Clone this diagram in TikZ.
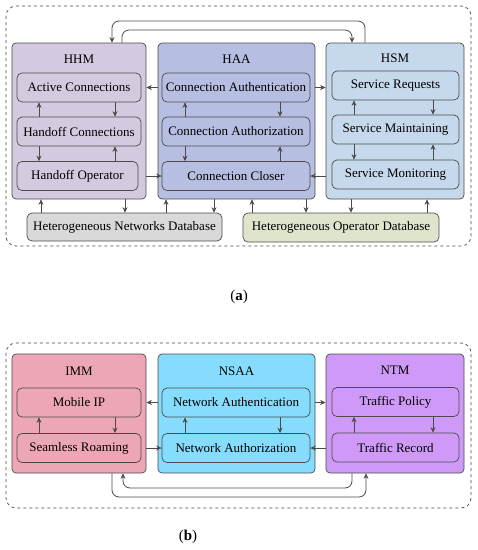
\documentclass[tikz,border=0pt]{standalone}
\usepackage{fontspec}
\setmainfont{Liberation Serif}
\usetikzlibrary{arrows.meta}
\definecolor{linegray}{RGB}{75,75,75}
\definecolor{hhmfill}{RGB}{212,202,224}
\definecolor{haafill}{RGB}{182,190,226}
\definecolor{hsmfill}{RGB}{198,216,235}
\definecolor{netfill}{RGB}{217,217,217}
\definecolor{opfill}{RGB}{223,229,205}
\definecolor{immfill}{RGB}{237,166,182}
\definecolor{nsaafill}{RGB}{133,220,252}
\definecolor{ntmfill}{RGB}{207,154,247}
\begin{document}
\begin{tikzpicture}[x=1pt,y=-1pt,every node/.style={font=\fontsize{13}{15}\selectfont,inner sep=0pt},
  module/.style={draw=linegray,line width=0.7pt,rounded corners=4pt},
  box/.style={draw=linegray,line width=0.7pt,rounded corners=5pt,minimum height=29pt},
  arr/.style={draw=linegray,line width=0.8pt,-{Stealth[length=5.5pt,width=5pt]}},
  frame/.style={draw=linegray,dashed,line width=0.7pt,rounded corners=10pt}]
\useasboundingbox (0,0) rectangle (478,550);
% panel (a)
\draw[frame] (6,6) rectangle (471,246);
\node[module,fill=hhmfill,minimum width=134pt,minimum height=156pt] (hhm) at (79,121){};
\node[module,fill=haafill,minimum width=157pt,minimum height=156pt] (haa) at (236.5,121){};
\node[module,fill=hsmfill,minimum width=138pt,minimum height=156pt] (hsm) at (395,121){};
\node (hhmt) at (79,59){HHM};\node (haat) at (236.5,59){HAA};\node (hsmt) at (395,58){HSM};
\node[box,fill=hhmfill,minimum width=124pt] (ac) at (79,87.5){Active Connections};
\node[box,fill=hhmfill,minimum width=124pt] (hc) at (79,131.5){Handoff Connections};
\node[box,fill=hhmfill,minimum width=121pt] (ho) at (77.5,176){Handoff Operator};
\node[box,fill=haafill,minimum width=148pt] (ca) at (236,87.5){Connection Authentication};
\node[box,fill=haafill,minimum width=148pt] (cz) at (236,131.5){Connection Authorization};
\node[box,fill=haafill,minimum width=148pt] (cc) at (236,176){Connection Closer};
\node[box,fill=hsmfill,minimum width=127pt] (sr) at (395.5,85.5){Service Requests};
\node[box,fill=hsmfill,minimum width=127pt] (sm) at (395.5,129.5){Service Maintaining};
\node[box,fill=hsmfill,minimum width=127pt] (so) at (395.5,174.5){Service Monitoring};
\node[module,rounded corners=5pt,fill=netfill,minimum width=195pt,minimum height=28pt] (hnd) at (124.5,227){Heterogeneous Networks Database};
\node[module,rounded corners=5pt,fill=opfill,minimum width=196pt,minimum height=29pt] (hod) at (341,227.5){Heterogeneous Operator Database};
% arrows inside modules
\draw[arr] (hc.north -| 39,0) -- (ac.south -| 39,0);
\draw[arr] (ac.south -| 115,0) -- (hc.north -| 115,0);
\draw[arr] (hc.south -| 39,0) -- (ho.north -| 39,0);
\draw[arr] (ho.north -| 115,0) -- (hc.south -| 115,0);
\draw[arr] (cz.north -| 185,0) -- (ca.south -| 185,0);
\draw[arr] (ca.south -| 280,0) -- (cz.north -| 280,0);
\draw[arr] (cz.south -| 185,0) -- (cc.north -| 185,0);
\draw[arr] (cc.north -| 280,0) -- (cz.south -| 280,0);
\draw[arr] (sm.north -| 354,0) -- (sr.south -| 354,0);
\draw[arr] (sr.south -| 433,0) -- (sm.north -| 433,0);
\draw[arr] (sm.south -| 354,0) -- (so.north -| 354,0);
\draw[arr] (so.north -| 433,0) -- (sm.south -| 433,0);
% arrows between modules
\draw[arr] (ca.west -| haa.west) -- (ca.west -| hhm.east);
\draw[arr] (ca.east -| haa.east) -- (ca.east -| hsm.west);
\draw[arr] (cc.west -| hhm.east) -- (cc.west);
\draw[arr] (cc.east -| hsm.west) -- (cc.east);
\draw[arr,rounded corners=7pt] (hsm.north -| 365,0) -- (365,21) -- (112,21) -- (hhm.north -| 112,0);
\draw[arr,rounded corners=7pt] (hhm.north -| 122,0) -- (122,30) -- (352,30) -- (hsm.north -| 352,0);
% database arrows
\draw[arr] (hnd.north -| 41,0) -- (hhm.south -| 41,0);
\draw[arr] (hhm.south -| 125,0) -- (hnd.north -| 125,0);
\draw[arr] (hnd.north -| 166,0) -- (haa.south -| 166,0);
\draw[arr] (haa.south -| 214,0) -- (hnd.north -| 214,0);
\draw[arr] (hod.north -| 252,0) -- (haa.south -| 252,0);
\draw[arr] (haa.south -| 306,0) -- (hod.north -| 306,0);
\draw[arr] (hsm.south -| 351,0) -- (hod.north -| 351,0);
\draw[arr] (hod.north -| 427,0) -- (hsm.south -| 427,0);
\node[font=\fontsize{15}{17}\selectfont] (capa) at (239,297){(\textbf{a})};
% panel (b)
\draw[frame] (6,343) rectangle (471,508);
\node[module,fill=immfill,minimum width=134pt,minimum height=119pt] (imm) at (79,413.5){};
\node[module,fill=nsaafill,minimum width=157pt,minimum height=119pt] (nsaa) at (236.5,413.5){};
\node[module,fill=ntmfill,minimum width=138pt,minimum height=119pt] (ntm) at (395,413.5){};
\node (immt) at (79,371){IMM};\node (nsaat) at (236.5,371){NSAA};\node (ntmt) at (395,370){NTM};
\node[box,fill=immfill,minimum width=124pt] (mip) at (79,402.5){Mobile IP};
\node[box,fill=immfill,minimum width=124pt] (sro) at (79,448){Seamless Roaming};
\node[box,fill=nsaafill,minimum width=148pt] (nau) at (236,402.5){Network Authentication};
\node[box,fill=nsaafill,minimum width=148pt] (naz) at (236,448){Network Authorization};
\node[box,fill=ntmfill,minimum width=127pt] (tp) at (395.5,402){Traffic Policy};
\node[box,fill=ntmfill,minimum width=127pt] (tr) at (395.5,447.5){Traffic Record};
\draw[arr] (sro.north -| 39,0) -- (mip.south -| 39,0);
\draw[arr] (mip.south -| 115,0) -- (sro.north -| 115,0);
\draw[arr] (naz.north -| 185,0) -- (nau.south -| 185,0);
\draw[arr] (nau.south -| 280,0) -- (naz.north -| 280,0);
\draw[arr] (tr.north -| 354,0) -- (tp.south -| 354,0);
\draw[arr] (tp.south -| 433,0) -- (tr.north -| 433,0);
\draw[arr] (nau.west -| nsaa.west) -- (nau.west -| imm.east);
\draw[arr] (nau.east -| nsaa.east) -- (nau.east -| ntm.west);
\draw[arr] (naz.west -| imm.east) -- (naz.west);
\draw[arr] (naz.east -| ntm.west) -- (naz.east);
\draw[arr,rounded corners=7pt] (ntm.south -| 352,0) -- (352,488) -- (123,488) -- (imm.south -| 123,0);
\draw[arr,rounded corners=7pt] (imm.south -| 112,0) -- (112,497) -- (366,497) -- (ntm.south -| 366,0);
\node[font=\fontsize{15}{17}\selectfont] (capb) at (188,537){(\textbf{b})};
\end{tikzpicture}
\end{document}
